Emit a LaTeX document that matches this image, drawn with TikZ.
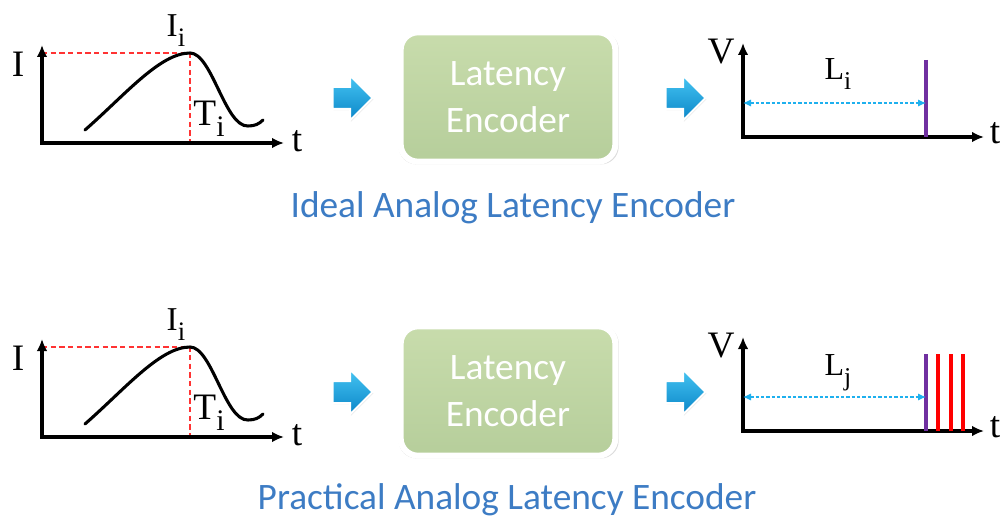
\documentclass[tikz,border=0pt]{standalone}
\usepackage{fontspec}
\setmainfont{Liberation Serif}
\newfontfamily\calib{Carlito}
\usetikzlibrary{arrows.meta,shapes.arrows,shadows,positioning}
\definecolor{capblue}{HTML}{3D7CC4}
\definecolor{boxtop}{HTML}{C8DCAC}
\definecolor{boxmid}{HTML}{C3D8A7}
\definecolor{boxbot}{HTML}{B6CE9B}
\definecolor{arrtop}{HTML}{45C4F2}
\definecolor{arrbot}{HTML}{0B86C8}
\definecolor{spikepurple}{HTML}{7030A0}
\definecolor{dashcyan}{HTML}{1EB0EE}
\newcommand{\lsub}[1]{\raisebox{-0.3em}{\scalebox{0.8}{#1}}}
\tikzset{
	axis/.style={line width=2.3pt,{Latex[length=9pt,width=8pt]}-{Latex[length=9pt,width=8pt]}},
	guide/.style={red!80!white,line width=0.8pt,dash pattern=on 4pt off 2.5pt},
	signal/.style={line width=2.3pt,line cap=round},
	span/.style={dashcyan,line width=0.9pt,dash pattern=on 2.5pt off 1.5pt,{Latex[length=6pt,width=5.5pt]}-{Latex[length=6pt,width=5.5pt]}},
	encoder/.style={rounded corners=13pt,draw=white,line width=4.5pt,top color=boxtop,middle color=boxmid,bottom color=boxbot,minimum width=161pt,minimum height=97pt,text=white,align=center,font=\calib\fontsize{28}{35}\selectfont,drop shadow={opacity=0.3,fill=black!45,shadow scale=1.025,shadow xshift=0.5pt,shadow yshift=-0.8pt}},
	flow/.style={single arrow,draw=white,line width=1.5pt,top color=arrtop,bottom color=arrbot,inner xsep=0pt,inner ysep=7.5pt,single arrow head extend=8.5pt,minimum height=30pt,drop shadow={opacity=0.25,fill=black!50,shadow xshift=0.6pt,shadow yshift=-0.9pt}},
	lbl/.style={inner sep=0pt,font=\fontsize{28}{30}\selectfont},
	peaklbl/.style={inner sep=0pt,font=\fontsize{25}{27}\selectfont},
	spanlbl/.style={inner sep=0pt,font=\fontsize{24}{26}\selectfont},
	caption/.style={inner sep=0pt,text=capblue,font=\calib\fontsize{28}{30}\selectfont},
	spike/.style={line width=3pt}
}
\begin{document}
\begin{tikzpicture}[x=0.75pt,y=-0.75pt]
	\useasboundingbox (0,0) rectangle (1002,520);
	% ideal encoder
	\coordinate (oA) at (42,143);
	\coordinate (yA) at (42,45);
	\coordinate (xA) at (284,143);
	\coordinate (pkA) at (190,53);
	\coordinate (ftA) at (190,145);
	\draw[guide] (oA |- pkA) -- (pkA) -- (ftA);
	\draw[axis] (yA) -- (oA) -- (xA);
	\draw[signal] (85,130) .. controls (125,95) and (160,53) .. (pkA) .. controls (212,53) and (225,127) .. (248,126) .. controls (255,126) and (259,124) .. (263,120);
	\node[lbl] (ylabA) at (18,64) {I};
	\node[peaklbl] (peakA) at (176,31) {I\lsub{i}};
	\node[lbl] (timeA) at (209,119) {T\lsub{i}};
	\node[lbl] (tA) at (297,141) {t};
	\node[flow] (arrA1) at (347,98) {};
	\node[encoder] (encA) at (508,97) {Latency\\Encoder};
	\node[flow] (arrA2) at (680,98) {};
	\coordinate (oB) at (743,137);
	\coordinate (yB) at (743,43);
	\coordinate (xB) at (984,137);
	\coordinate (spkB) at (926,60);
	\draw[axis] (yB) -- (oB) -- (xB);
	\draw[spike,spikepurple] (spkB) -- (spkB |- oB);
	\draw[span] (oB |- 0,103) -- (spkB |- 0,103);
	\node[lbl] (vB) at (721,52) {V};
	\node[spanlbl] (latB) at (838,74) {L\lsub{i}};
	\node[lbl] (tB) at (995,133) {t};
	\node[caption] (capA) at (513,208) {Ideal Analog Latency Encoder};
	% practical encoder
	\coordinate (oC) at (42,437);
	\coordinate (yC) at (42,339);
	\coordinate (xC) at (284,437);
	\coordinate (pkC) at (190,347);
	\coordinate (ftC) at (190,439);
	\draw[guide] (oC |- pkC) -- (pkC) -- (ftC);
	\draw[axis] (yC) -- (oC) -- (xC);
	\draw[signal] (85,424) .. controls (125,389) and (160,347) .. (pkC) .. controls (212,347) and (225,421) .. (248,420) .. controls (255,420) and (259,418) .. (263,414);
	\node[lbl] (ylabC) at (18,358) {I};
	\node[peaklbl] (peakC) at (176,325) {I\lsub{i}};
	\node[lbl] (timeC) at (209,413) {T\lsub{i}};
	\node[lbl] (tC) at (297,435) {t};
	\node[flow] (arrC1) at (347,392) {};
	\node[encoder] (encC) at (508,391) {Latency\\Encoder};
	\node[flow] (arrC2) at (680,392) {};
	\coordinate (oD) at (743,431);
	\coordinate (yD) at (743,337);
	\coordinate (xD) at (984,431);
	\coordinate (spkD) at (926,354);
	\draw[axis] (yD) -- (oD) -- (xD);
	\draw[spike,spikepurple] (spkD) -- (spkD |- oD);
	\foreach \dx in {12,25,37}
		\draw[spike,red] ([xshift=\dx*0.75pt]spkD) -- ([xshift=\dx*0.75pt]spkD |- oD);
	\draw[span] (oD |- 0,397) -- (spkD |- 0,397);
	\node[lbl] (vD) at (721,346) {V};
	\node[spanlbl] (latD) at (838,373) {L\lsub{j}};
	\node[lbl] (tD) at (995,427) {t};
	\node[caption] (capC) at (507,500) {Practical Analog Latency Encoder};
\end{tikzpicture}
\end{document}
